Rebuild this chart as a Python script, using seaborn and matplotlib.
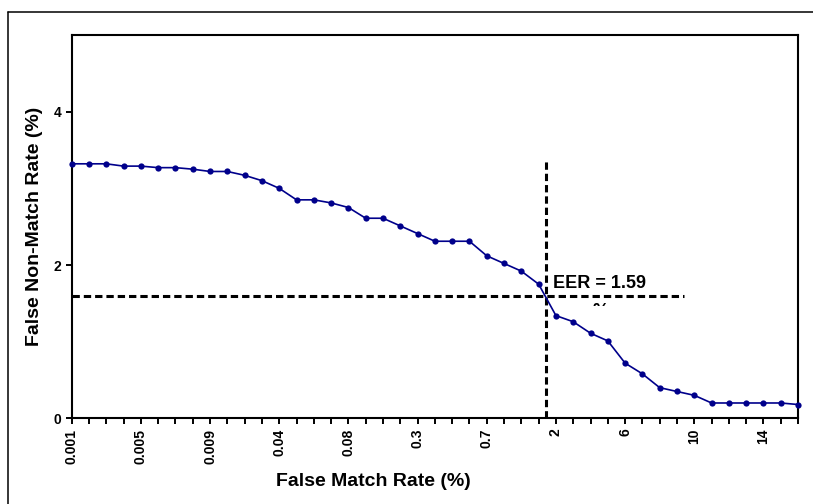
import numpy as np
import pandas as pd
import matplotlib
matplotlib.use("Agg")
import matplotlib.pyplot as plt
import seaborn as sns
from matplotlib.lines import Line2D
from matplotlib.transforms import Bbox, TransformedBbox

# -----------------------------
# Data
# -----------------------------
fmr_labels = ["0.001", "0.002", "0.003", "0.004", "0.005", "0.006", "0.007", "0.008", "0.009",
              "0.01", "0.02", "0.03", "0.04", "0.05", "0.06", "0.07", "0.08", "0.09",
              "0.1", "0.2", "0.3", "0.4", "0.5", "0.6", "0.7", "0.8", "0.9",
              "1", "2", "3", "4", "5", "6", "7", "8", "9",
              "10", "11", "12", "13", "14", "15", "16"]
fnmr = [3.32, 3.32, 3.32, 3.29, 3.29, 3.27, 3.27, 3.25, 3.22, 3.22,
        3.17, 3.10, 3.00, 2.85, 2.85, 2.81, 2.75, 2.61, 2.61, 2.51,
        2.41, 2.31, 2.31, 2.31, 2.12, 2.02, 1.92, 1.75, 1.34, 1.26,
        1.11, 1.01, 0.72, 0.58, 0.40, 0.35, 0.30, 0.20, 0.20, 0.20,
        0.20, 0.20, 0.18]
eer = 1.59
eer_pos = 27.4        # category position where the curve crosses EER
eer_hline_end = 35.4
eer_vline_top = 3.38
label_every = 4

df = pd.DataFrame({"pos": np.arange(len(fnmr)), "fnmr": fnmr})

# -----------------------------
# Theme
# -----------------------------
sns.set_style("white")
plt.rcParams["font.family"] = ["Liberation Sans", "DejaVu Sans"]
plt.rcParams["font.weight"] = "bold"
plt.rcParams["text.color"] = "black"
plt.rcParams["axes.labelcolor"] = "black"
plt.rcParams["xtick.color"] = "black"
plt.rcParams["ytick.color"] = "black"

fig = plt.figure(figsize=(8.13, 5.04), dpi=100)
ax = fig.add_axes([0.0882, 0.170, 0.8934, 0.7605])

# outer frame (only left and top edges visible in the picture)
fig.add_artist(Line2D([8.3 / 813, 8.3 / 813], [0, 1 - 11.5 / 504], color="black", lw=1.1))
fig.add_artist(Line2D([8.3 / 813, 1], [1 - 11.5 / 504, 1 - 11.5 / 504], color="black", lw=1.1))

# -----------------------------
# DET curve
# -----------------------------
sns.lineplot(data=df, x="pos", y="fnmr", ax=ax, color="#00008B",
             marker="o", markersize=4.5, markeredgewidth=0, linewidth=1.2,
             clip_on=False, zorder=3)

# EER guide lines
ax.plot([0, eer_hline_end], [eer, eer], color="black", lw=2.2,
        linestyle=(0, (2.4, 1.3)), zorder=2)
ax.plot([eer_pos, eer_pos], [0, eer_vline_top], color="black", lw=2.2,
        linestyle=(0, (2.4, 1.3)), zorder=2)

ax.text(27.85, 1.70, "EER = 1.59", fontsize=13, fontweight="bold",
        color="black", ha="left", va="baseline")
frag = ax.text(30.6, 1.34, "%", fontsize=13, fontweight="bold", color="black",
               ha="center", va="baseline", clip_on=True)
frag.set_clip_box(TransformedBbox(Bbox([[29.5, 1.468], [31.8, 1.60]]), ax.transData))

# -----------------------------
# Axes styling
# -----------------------------
ax.set_xlim(0, len(fnmr) - 1)
ax.set_ylim(0, 5)
ax.set_yticks([0, 2, 4])
ax.set_yticklabels(["0", "2", "4"])
ax.set_xticks(np.arange(len(fnmr)))
ax.set_xticklabels([lab if i % label_every == 0 else "" for i, lab in enumerate(fmr_labels)],
                   rotation=90)

ax.tick_params(axis="both", direction="out", length=4.5, width=1.4, color="black",
               labelcolor="black", labelsize=10, pad=3, bottom=True, left=True)
for lab in ax.get_xticklabels() + ax.get_yticklabels():
    lab.set_fontweight("bold")

for side in ["left", "right", "top", "bottom"]:
    ax.spines[side].set_visible(True)
    ax.spines[side].set_color("black")
    ax.spines[side].set_linewidth(1.5)

ax.set_xlabel("False Match Rate (%)", fontsize=14, fontweight="bold", color="black")
ax.set_ylabel("False Non-Match Rate (%)", fontsize=14, fontweight="bold", color="black")
ax.xaxis.set_label_coords(0.415, -0.143)
ax.yaxis.set_label_coords(-0.04, 0.5)

fig.savefig("out.png", dpi=100)
